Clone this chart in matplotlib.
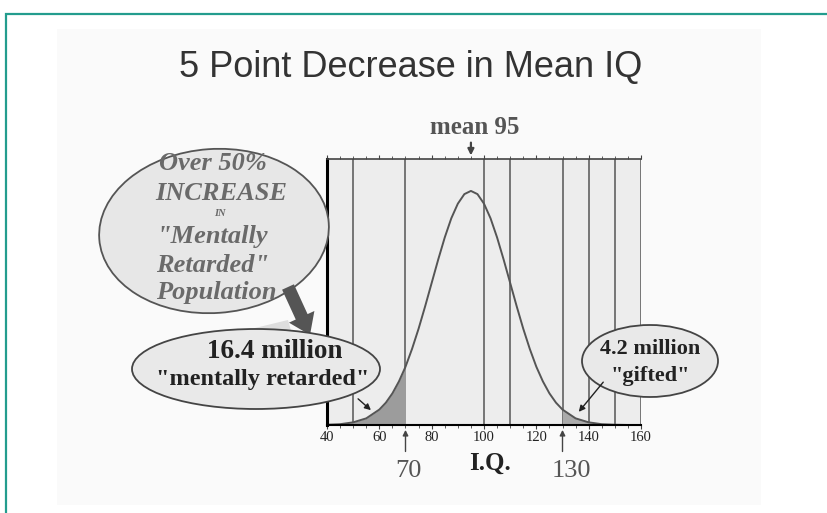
import matplotlib
matplotlib.use('Agg')
import matplotlib.pyplot as plt
import matplotlib.ticker as mticker
from matplotlib.patches import Ellipse, Rectangle, FancyArrow, Polygon

# IQ curve (height as fraction of the plot box)
iq = [40, 45, 50, 55, 60, 62.5, 65, 67.5, 70, 72.5, 75, 77.5, 80, 82.5, 85, 87.5,
      90, 92.5, 95, 97.5, 100, 102.5, 105, 107.5, 110, 112.5, 115, 117.5, 120,
      122.5, 125, 127.5, 130, 135, 140, 145, 150, 155, 160]
height = [0.001, 0.003, 0.010, 0.025, 0.058, 0.084, 0.119, 0.164, 0.219, 0.286,
          0.362, 0.446, 0.534, 0.622, 0.705, 0.777, 0.832, 0.868, 0.880, 0.868,
          0.832, 0.777, 0.705, 0.622, 0.534, 0.446, 0.362, 0.286, 0.219, 0.164,
          0.119, 0.084, 0.058, 0.025, 0.010, 0.003, 0.001, 0.0, 0.0]
grid_lines = [50, 70, 100, 110, 130, 140, 150, 160]
low_cut, high_cut = 70, 130
mean_iq = 95
title = '5 Point Decrease in Mean IQ'
bubble_text = ['Over 50%', 'INCREASE', 'IN', '"Mentally', 'Retarded"', 'Population']

SERIF = 'Liberation Serif'

fig = plt.figure(figsize=(8.28, 5.13), dpi=100)
fig.patch.set_facecolor('white')

# background panel + teal frame, in pixel coordinates
bg = fig.add_axes([0, 0, 1, 1], zorder=0)
bg.set_xlim(0, 828)
bg.set_ylim(513, 0)
bg.axis('off')
bg.add_patch(Rectangle((57, 29), 704, 476, color='#fafafa', lw=0))
bg.plot([6, 6, 828], [513, 14, 14], color='#239c8e', lw=1.6, solid_joinstyle='miter')

# the chart itself
ax = fig.add_axes([327 / 828, 88 / 513, 314 / 828, 266 / 513], zorder=1)
ax.set_facecolor('#ededed')
ax.set_xlim(40, 160)
ax.set_ylim(0, 1)
ax.vlines(grid_lines, 0, 1, color='#555555', lw=1.1, zorder=1)

ax.fill_between([x for x in iq if x <= low_cut], [h for x, h in zip(iq, height) if x <= low_cut],
                color='#9c9c9c', lw=0, zorder=2)
ax.fill_between([x for x in iq if x >= high_cut], [h for x, h in zip(iq, height) if x >= high_cut],
                color='#ababab', lw=0, zorder=2)
ax.plot(iq, height, color='#555555', lw=1.4, zorder=3)

for side in ['left', 'bottom', 'top', 'right']:
    ax.spines[side].set_zorder(4)
ax.spines['left'].set_linewidth(2.2)
ax.spines['left'].set_color('black')
ax.spines['bottom'].set_linewidth(1.5)
ax.spines['bottom'].set_color('black')
ax.spines['top'].set_linewidth(1.2)
ax.spines['top'].set_color('#444444')
ax.spines['right'].set_visible(False)

ax.xaxis.set_major_locator(mticker.MultipleLocator(20))
ax.xaxis.set_minor_locator(mticker.MultipleLocator(5))
ax.set_yticks([])
ax.tick_params(axis='x', which='both', top=True, direction='out', color='#444444', pad=1)
ax.tick_params(axis='x', which='major', length=3)
ax.tick_params(axis='x', which='minor', length=2)
for lab in ax.get_xticklabels():
    lab.set_fontfamily(SERIF)
    lab.set_fontsize(10.5)
    lab.set_color('#222222')

# mean marker
ax.annotate('', xy=(mean_iq, 1.003), xytext=(mean_iq, 1.072),
            arrowprops=dict(arrowstyle='-|>', color='#444444', lw=1.6, mutation_scale=9),
            annotation_clip=False)
ax.text(mean_iq + 1.5, 1.117, f'mean {mean_iq}', ha='center', va='center', fontsize=18,
        fontweight='bold', family=SERIF, color='#555555', clip_on=False)

# cut-off markers
for cut, dx in [(low_cut, 1.0), (high_cut, 3.3)]:
    ax.annotate('', xy=(cut, -0.008), xytext=(cut, -0.11),
                arrowprops=dict(arrowstyle='-|>', color='#444444', lw=1.0, mutation_scale=8),
                annotation_clip=False)
    ax.text(cut + dx, -0.172, str(cut), ha='center', va='center', fontsize=19,
            family=SERIF, color='#555555', clip_on=False)
ax.text(102.3, -0.145, 'I.Q.', ha='center', va='center', fontsize=18, fontweight='bold',
        family=SERIF, color='#222222', clip_on=False)

# overlay: title, bubbles, arrows
ov = fig.add_axes([0, 0, 1, 1], zorder=2)
ov.patch.set_alpha(0)
ov.set_xlim(0, 828)
ov.set_ylim(513, 0)
ov.axis('off')

ov.text(411, 68, title, ha='center', va='center', fontsize=26,
        family='Liberation Sans', color='#333333')

# faint shadow wedge
ov.add_patch(Polygon([(222, 336), (288, 320), (292, 334)], closed=True,
                     color='#dedede', lw=0))

ov.add_patch(Ellipse((214, 231), 230, 164, angle=-4, facecolor='#e7e7e7',
                     edgecolor='#555555', lw=1.3))
bx = 155
style = dict(fontsize=19, style='italic', fontweight='bold', family=SERIF,
             color='#6a6a6a', va='center')
ov.text(bx + 4, 163, bubble_text[0], **style)
ov.text(bx, 194, bubble_text[1], **style)
ov.text(220, 213, bubble_text[2], fontsize=7.5, style='italic', fontweight='bold',
        family=SERIF, color='#6a6a6a', va='center', ha='center')
for txt, y in zip(bubble_text[3:], [237, 265, 293]):
    ov.text(bx + 1, y, txt, **style)

ov.add_patch(FancyArrow(288, 287, 22, 48, width=13, head_width=28, head_length=20,
                        length_includes_head=True, color='#555555', lw=0))

ov.add_patch(Ellipse((256, 369), 248, 80, facecolor='#e9e9e9', edgecolor='#444444', lw=1.3))
ov.text(275, 352, '16.4 million', ha='center', va='center', fontsize=19.5,
        fontweight='bold', family=SERIF, color='#222222')
ov.text(263, 380, '"mentally retarded"', ha='center', va='center', fontsize=17.5,
        fontweight='bold', family=SERIF, color='#222222')

ov.add_patch(Ellipse((650, 361), 136, 72, facecolor='#e9e9e9', edgecolor='#444444', lw=1.3))
ov.text(650, 349, '4.2 million', ha='center', va='center', fontsize=16,
        fontweight='bold', family=SERIF, color='#222222')
ov.text(650, 376, '"gifted"', ha='center', va='center', fontsize=16,
        fontweight='bold', family=SERIF, color='#222222')

ov.annotate('', xy=(373, 412), xytext=(356, 397),
            arrowprops=dict(arrowstyle='-|>', color='#222222', lw=1.0, mutation_scale=9))
ov.annotate('', xy=(577, 414), xytext=(605, 380),
            arrowprops=dict(arrowstyle='-|>', color='#222222', lw=1.0, mutation_scale=9))

fig.savefig('out.png', dpi=100, facecolor='white')
